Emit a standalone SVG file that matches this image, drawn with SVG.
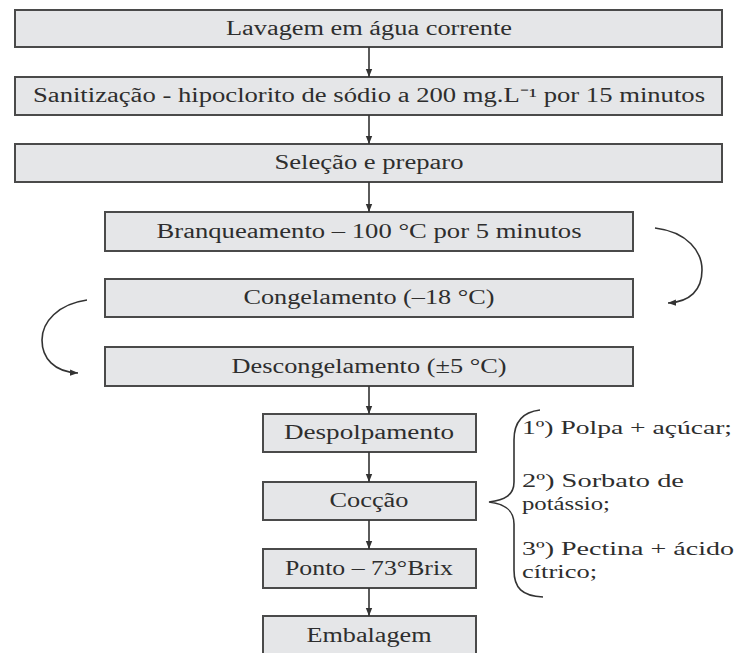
<svg xmlns="http://www.w3.org/2000/svg" width="737" height="653" viewBox="0 0 737 653">
<defs>
<style>
.box{fill:#e5e6e8;stroke:#4a4a4a;stroke-width:2}
.t{font-family:"Liberation Serif","Times New Roman",serif;font-size:20px;fill:#2e2e2e;text-anchor:middle}
.r{font-family:"Liberation Serif","Times New Roman",serif;font-size:19px;fill:#2e2e2e}
.c{fill:none;stroke:#333;stroke-width:1.6}
</style>
<marker id="ah" markerWidth="9" markerHeight="8" refX="8" refY="4" orient="auto" markerUnits="userSpaceOnUse">
<path d="M0,0.8 L8,4 L0,7.2 z" fill="#333"/>
</marker>
</defs>
<rect width="737" height="653" fill="#fff"/>
<g id="n1"><rect class="box" x="15" y="10" width="707" height="37"/><text class="t" x="369" y="35" textLength="286" lengthAdjust="spacingAndGlyphs">Lavagem em água corrente</text></g>
<g id="n2"><rect class="box" x="15" y="77" width="707" height="38"/><text class="t" x="369" y="102" textLength="672" lengthAdjust="spacingAndGlyphs">Sanitização - hipoclorito de sódio a 200 mg.L⁻¹ por 15 minutos</text></g>
<g id="n3"><rect class="box" x="15" y="144" width="707" height="38"/><text class="t" x="369" y="169" textLength="189" lengthAdjust="spacingAndGlyphs">Seleção e preparo</text></g>
<g id="n4"><rect class="box" x="105" y="212" width="528" height="39"/><text class="t" x="369" y="238" textLength="425" lengthAdjust="spacingAndGlyphs">Branqueamento – 100 °C por 5 minutos</text></g>
<g id="n5"><rect class="box" x="105" y="279" width="528" height="38"/><text class="t" x="369" y="304" textLength="251" lengthAdjust="spacingAndGlyphs">Congelamento (–18 °C)</text></g>
<g id="n6"><rect class="box" x="105" y="347" width="528" height="39"/><text class="t" x="369" y="373" textLength="275" lengthAdjust="spacingAndGlyphs">Descongelamento (±5 °C)</text></g>
<g id="n7"><rect class="box" x="263" y="414" width="213" height="38"/><text class="t" x="369" y="439" textLength="170" lengthAdjust="spacingAndGlyphs">Despolpamento</text></g>
<g id="n8"><rect class="box" x="263" y="482" width="213" height="38"/><text class="t" x="369" y="507" textLength="79" lengthAdjust="spacingAndGlyphs">Cocção</text></g>
<g id="n9"><rect class="box" x="263" y="549" width="213" height="39"/><text class="t" x="369" y="575" textLength="168" lengthAdjust="spacingAndGlyphs">Ponto – 73°Brix</text></g>
<g id="n10"><rect class="box" x="263" y="616" width="213" height="45"/><text class="t" x="369" y="642" textLength="125" lengthAdjust="spacingAndGlyphs">Embalagem</text></g>
<g id="notes">
<text class="r" x="522" y="434" textLength="210" lengthAdjust="spacingAndGlyphs">1º) Polpa + açúcar;</text>
<text class="r" x="522" y="487" textLength="162" lengthAdjust="spacingAndGlyphs">2º) Sorbato de</text>
<text class="r" x="522" y="510" textLength="88" lengthAdjust="spacingAndGlyphs">potássio;</text>
<text class="r" x="522" y="555" textLength="212" lengthAdjust="spacingAndGlyphs">3º) Pectina + ácido</text>
<text class="r" x="522" y="578" textLength="75" lengthAdjust="spacingAndGlyphs">cítrico;</text>
</g>
<g id="connectors">
<line class="c" x1="369" y1="47" x2="369" y2="77" marker-end="url(#ah)"/>
<line class="c" x1="369" y1="115" x2="369" y2="144" marker-end="url(#ah)"/>
<line class="c" x1="369" y1="182" x2="369" y2="212" marker-end="url(#ah)"/>
<line class="c" x1="369" y1="386" x2="369" y2="414" marker-end="url(#ah)"/>
<line class="c" x1="369" y1="452" x2="369" y2="482" marker-end="url(#ah)"/>
<line class="c" x1="369" y1="520" x2="369" y2="549" marker-end="url(#ah)"/>
<line class="c" x1="369" y1="588" x2="369" y2="616" marker-end="url(#ah)"/>
<path class="c" d="M655,228 C688,232 702,252 702,270 C702,290 690,302 668,303" marker-end="url(#ah)"/>
<path class="c" d="M87,300 C58,304 42,322 42,340 C42,358 54,372 78,373" marker-end="url(#ah)"/>
<path class="c" d="M540,410 C522,412 514,422 514,440 L514,482 C514,495 505,500 489,502 C505,504 514,510 514,524 L514,570 C514,588 522,596 543,597"/>
</g>
</svg>
